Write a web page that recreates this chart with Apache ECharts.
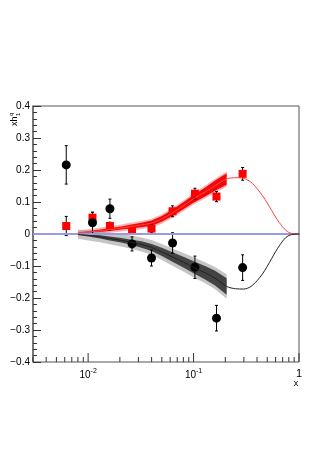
<!DOCTYPE html>
<html>
<head>
<meta charset="utf-8">
<script src="https://cdn.jsdelivr.net/npm/echarts@6/dist/echarts.min.js"></script>
<style>
html,body{margin:0;padding:0;background:#fff;}
#chart{width:332px;height:470px;}
</style>
</head>
<body>
<div id="chart"></div>
<script>
// points
var ptX = [0.0062, 0.011, 0.0161, 0.0261, 0.0399, 0.0632, 0.103, 0.165, 0.292];
var redY = [0.025, 0.051, 0.025, 0.011, 0.017, 0.071, 0.126, 0.117, 0.188];
var redErr = [0.03, 0.017, 0.012, 0.01, 0.013, 0.017, 0.017, 0.016, 0.02];
var blackY = [0.216, 0.035, 0.079, -0.031, -0.075, -0.028, -0.104, -0.263, -0.105];
var blackErr = [0.06, 0.033, 0.03, 0.022, 0.025, 0.032, 0.035, 0.04, 0.04];

// band region
var bandX = [0.008, 0.01, 0.013, 0.016, 0.02, 0.025, 0.032, 0.04, 0.05, 0.063, 0.08, 0.1, 0.13, 0.16, 0.206];
var redMid = [0.003, 0.006, 0.010, 0.014, 0.018, 0.023, 0.028, 0.034, 0.047, 0.066, 0.088, 0.11, 0.132, 0.151, 0.172];
var redHalf = [0.002, 0.003, 0.004, 0.005, 0.005, 0.006, 0.007, 0.008, 0.009, 0.010, 0.011, 0.012, 0.014, 0.016, 0.018];
var blackMid = [-0.001, -0.004, -0.009, -0.014, -0.019, -0.025, -0.033, -0.042, -0.056, -0.072, -0.088, -0.104, -0.122, -0.138, -0.164];
var blackHalf = [0.002, 0.004, 0.005, 0.006, 0.007, 0.008, 0.01, 0.011, 0.013, 0.015, 0.017, 0.019, 0.021, 0.023, 0.026];

// curve beyond band
var tailX = [0.25, 0.3, 0.35, 0.4, 0.45, 0.5, 0.55, 0.6, 0.65, 0.7, 0.75, 0.8, 0.85, 0.9, 0.95, 1];
var redTail = [0.176, 0.174, 0.162, 0.142, 0.12, 0.097, 0.074, 0.053, 0.036, 0.022, 0.012, 0.005, 0.002, 0.0006, 0.0001, 0];
var blackTail = [-0.171, -0.172, -0.164, -0.146, -0.125, -0.101, -0.077, -0.055, -0.037, -0.022, -0.011, -0.005, -0.002, -0.0006, -0.0001, 0];

// x tick positions
var majorTicks = [0.01, 0.1, 1];
var minorTicks = [0.003, 0.004, 0.005, 0.006, 0.007, 0.008, 0.009,
  0.02, 0.03, 0.04, 0.05, 0.06, 0.07, 0.08, 0.09,
  0.2, 0.3, 0.4, 0.5, 0.6, 0.7, 0.8, 0.9];

function zip(xs, ys){
  var out = [];
  for(var i=0;i<xs.length;i++) out.push([xs[i], ys[i]]);
  return out;
}

function bandSeries(mid, half, extra, color){
  var data = [];
  for(var i=0;i<bandX.length;i++){
    data.push([bandX[i], mid[i]-half[i]-extra, mid[i]+half[i]+extra]);
  }
  return {
    type:'custom', silent:true,
    data:data,
    encode:{x:0, y:[1,2]},
    renderItem:function(params, api){
      if(params.dataIndex !== 0) return null;
      var pts = [];
      for(var i=0;i<data.length;i++) pts.push(api.coord([data[i][0], data[i][2]]));
      for(var j=data.length-1;j>=0;j--) pts.push(api.coord([data[j][0], data[j][1]]));
      return {type:'polygon', shape:{points:pts}, style:{fill:color}};
    }
  };
}

function errSeries(ys, errs){
  var data = [];
  for(var i=0;i<ptX.length;i++) data.push([ptX[i], ys[i], errs[i]]);
  return {
    type:'custom', silent:true,
    data:data,
    encode:{x:0, y:1},
    renderItem:function(params, api){
      var x = api.value(0), y = api.value(1), e = api.value(2);
      var top = api.coord([x, y+e]);
      var bot = api.coord([x, y-e]);
      var st = {stroke:'#000', lineWidth:1};
      return {type:'group', children:[
        {type:'line', shape:{x1:top[0], y1:top[1], x2:bot[0], y2:bot[1]}, style:st},
        {type:'line', shape:{x1:top[0]-1.5, y1:top[1], x2:top[0]+1.5, y2:top[1]}, style:st},
        {type:'line', shape:{x1:bot[0]-1.5, y1:bot[1], x2:bot[0]+1.5, y2:bot[1]}, style:st}
      ]};
    }
  };
}

function tickSeries(vals, len){
  return {
    type:'custom', silent:true,
    data:vals.map(function(v){ return [v, -0.4]; }),
    encode:{x:0, y:1},
    renderItem:function(params, api){
      var p = api.coord([api.value(0), -0.4]);
      return {type:'line', shape:{x1:p[0], y1:p[1], x2:p[0], y2:p[1]-len}, style:{stroke:'#333', lineWidth:1}};
    }
  };
}

var chart = echarts.init(document.getElementById('chart'));
var font = 'Liberation Sans, Arial, sans-serif';

chart.setOption({
  animation:false,
  backgroundColor:'#fff',
  grid:{left:33, right:33, top:106, bottom:108, show:true, borderColor:'#555', borderWidth:1},
  xAxis:{
    type:'log', logBase:10, min:0.003, max:1,
    axisLine:{lineStyle:{color:'#555', width:1.5}},
    axisTick:{show:false},
    splitLine:{show:false},
    minorTick:{show:false},
    axisLabel:{
      margin:6, color:'#000', fontFamily:font, fontSize:10,
      formatter:function(v){
        if(Math.abs(v-1) < 1e-9) return '{o|1}';
        var l = Math.log10(v);
        if(v < 0.005 || Math.abs(l-Math.round(l)) > 1e-6) return '';
        return '{b|10}{s|' + Math.round(l) + '}';
      },
      rich:{
        b:{fontSize:10, fontFamily:font, color:'#000'},
        s:{fontSize:7, fontFamily:font, color:'#000', padding:[0,0,7,0]},
        o:{fontSize:11, fontFamily:font, color:'#000'}
      }
    }
  },
  yAxis:{
    type:'value', min:-0.4, max:0.4, interval:0.1,
    axisLine:{show:true, lineStyle:{color:'#666', width:1.5}},
    axisTick:{show:true, inside:true, length:8, lineStyle:{color:'#333'}},
    minorTick:{show:true, splitNumber:5, length:4, lineStyle:{color:'#333'}},
    splitLine:{show:false},
    axisLabel:{
      margin:3, color:'#000', fontFamily:font, fontSize:10,
      formatter:function(v){
        if(Math.abs(v) < 1e-9) return '0';
        var s = Math.abs(v).toFixed(1);
        return v < 0 ? '\u2212' + s : s;
      }
    }
  },
  graphic:[
    {type:'group', x:15, y:126, rotation:Math.PI/2, children:[
      {type:'text', x:0, y:0, style:{text:'xh', font:'9px ' + font, fill:'#000', textAlign:'left', textVerticalAlign:'middle'}},
      {type:'text', x:10, y:-4, style:{text:'q', font:'6px ' + font, fill:'#000', textAlign:'left', textVerticalAlign:'middle'}},
      {type:'text', x:10, y:3, style:{text:'1', font:'6px ' + font, fill:'#000', textAlign:'left', textVerticalAlign:'middle'}}
    ]},
    {type:'text', x:296, y:384, style:{text:'x', font:'9px ' + font, fill:'#000', textAlign:'center', textVerticalAlign:'middle'}}
  ],
  series:[
    tickSeries(majorTicks, 9),
    tickSeries(minorTicks, 5),
    {type:'line', silent:true, showSymbol:false, data:[[0.003,0],[1,0]], lineStyle:{color:'#9a9ae0', width:2}},
    bandSeries(redMid, redHalf, 0.006, 'rgba(255,120,120,0.55)'),
    bandSeries(redMid, redHalf, 0, 'rgba(240,0,0,0.95)'),
    bandSeries(blackMid, blackHalf, 0.012, 'rgba(150,150,150,0.55)'),
    bandSeries(blackMid, blackHalf, 0, 'rgba(55,55,55,0.92)'),
    {type:'line', silent:true, showSymbol:false, smooth:0.3,
      data:zip(bandX, redMid).concat(zip(tailX, redTail)),
      lineStyle:{color:'#ff4040', width:1}},
    {type:'line', silent:true, showSymbol:false, smooth:0.3,
      data:zip(bandX, blackMid).concat(zip(tailX, blackTail)),
      lineStyle:{color:'#222', width:1}},
    errSeries(redY, redErr),
    errSeries(blackY, blackErr),
    {type:'scatter', silent:true, symbol:'rect', symbolSize:8, data:zip(ptX, redY), itemStyle:{color:'#ff0000', opacity:1}},
    {type:'scatter', silent:true, symbol:'circle', symbolSize:9, data:zip(ptX, blackY), itemStyle:{color:'#000', opacity:1}}
  ]
});
</script>
</body>
</html>
